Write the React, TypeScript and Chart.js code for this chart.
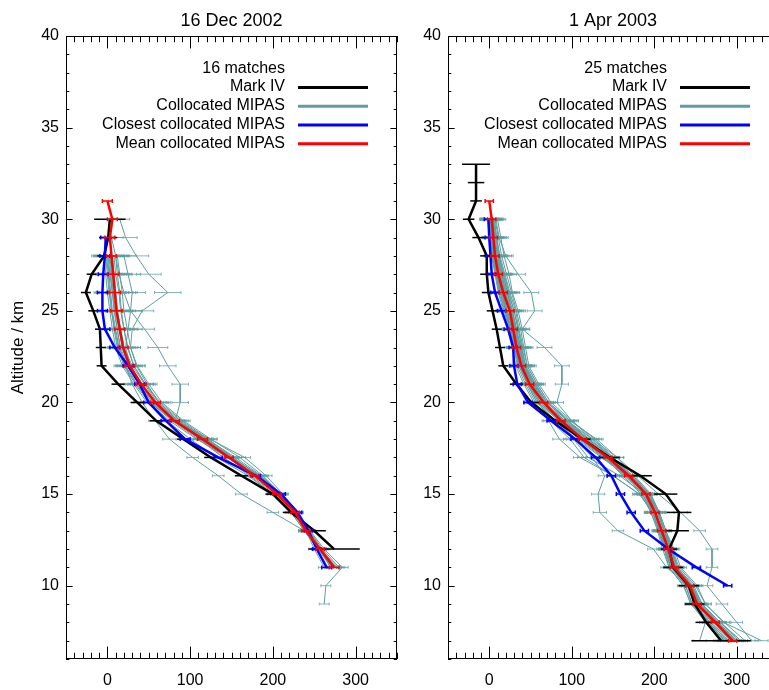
import React, { useEffect, useRef } from 'react';
import { Chart, registerables } from 'chart.js';

Chart.register(...registerables);

const FONT = '"Liberation Sans", Arial, Helvetica, sans-serif';
const TEAL = '#5f9ea0';
const TEAL_ERR = 'rgba(95,158,160,0.75)';

const seriesLabels = ['Mark IV', 'Collocated MIPAS', 'Closest collocated MIPAS', 'Mean collocated MIPAS'];
const seriesColors = ['#000000', TEAL, '#0000ff', '#ff0000'];
const yTitle = 'Altitude / km';

// ---------- 16 Dec 2002 ----------
const decTitle = '16 Dec 2002';
const decMatches = '16 matches';

const decMarkIVTop = 30;
const decMarkIV = [3, 1, -4, -19, -26, -17, -9, -8, -7, 13, 36, 59, 92, 125, 162, 200, 222, 250, 274];
const decMarkIVErr = [19, 11, 8, 6, 6, 6, 6, 6, 6, 8, 8, 8, 8, 8, 8, 9, 10, 14, 31];

const decClosestTop = 29;
const decClosest = [-2, -3, -5, -6, -6, -3, 9, 25, 39, 50, 71, 94, 134, 180, 210, 230, 243, 253, 265];
const decClosestErr = [6, 6, 6, 6, 6, 6, 6, 6, 6, 6, 6, 6, 5, 5, 5, 5, 5, 5, 6];

const decMeanTop = 31;
const decMean = [0, 6, 3, 5, 7, 9, 11, 15, 19, 27, 41, 58, 81, 115, 147, 178, 205, 227, 240, 257, 274];
const decMeanErr = [6, 6, 6, 6, 7, 7, 7, 6, 6, 6, 6, 6, 6, 6, 5, 5, 5, 5, 5, 5, 6];

// altitude 30 km down to 9 km
const decMipasErr = [12, 14, 15, 15, 16, 14, 12, 12, 10, 10, 10, 8, 8, 7, 7, 7, 7, 7, 7, 7, 6, 6];

const decMipasTop = [30, 28, 28, 28, 28, 28, 28, 28, 28, 28, 28, 28, 28, 28, 28, 29];
const decMipas = [
  [15, 22, 35, 50, 73, 42, 30, 28, 35, 48, 62, 85, 118, 150, 185, 210, 228, 242, 258, 272],
  [10, 14, 20, 28, 45, 61, 73, 88, 88, 82, 124, 166, 192, 212, 226, 240, 250, 262],
  [2, 4, 6, 8, 12, 15, 22, 30, 42, 58, 75, 103, 134, 162, 200, 238, 255, 270],
  [5, 8, 10, 12, 15, 18, 25, 38, 55, 80, 112, 145, 178, 205, 228, 245, 262, 284, 264, 262],
  [0, 2, 4, 6, 10, 14, 22, 36, 52, 78, 110, 140, 172, 200, 222, 238, 255, 272],
  [-2, 0, 2, 5, 8, 12, 20, 34, 50, 75, 108, 145, 178, 204, 224, 240, 256, 270],
  [8, 10, 14, 16, 20, 25, 32, 46, 62, 88, 120, 152, 184, 208, 228, 242, 258, 276],
  [3, 5, 7, 10, 14, 18, 26, 40, 58, 85, 118, 150, 180, 206, 226, 238, 254, 273],
  [-4, -2, 0, 3, 6, 10, 18, 32, 48, 72, 100, 132, 170, 200, 222, 238, 256, 275],
  [12, 15, 18, 20, 24, 28, 36, 50, 66, 92, 125, 160, 188, 210, 228, 242, 258, 278],
  [6, 8, 10, 12, 16, 20, 28, 42, 58, 84, 112, 140, 174, 202, 224, 240, 258, 276],
  [1, 3, 6, 9, 12, 16, 24, 38, 54, 80, 114, 148, 182, 208, 228, 244, 260, 280],
  [20, 25, 30, 28, 25, 22, 28, 40, 56, 82, 118, 150, 180, 206, 226, 240, 256, 272],
  [4, 6, 9, 12, 16, 20, 30, 45, 60, 86, 120, 155, 186, 210, 230, 244, 258, 274],
  [-1, 1, 3, 5, 9, 13, 21, 35, 52, 80, 116, 150, 178, 204, 226, 240, 256, 272],
  [5, 10, 12, 15, 17, 20, 24, 32, 46, 64, 90, 122, 152, 182, 206, 226, 238, 255, 273],
];

// ---------- 1 Apr 2003 ----------
const aprTitle = '1 Apr 2003';
const aprMatches = '25 matches';

const aprMarkIVTop = 33;
const aprMarkIV = [-16, -16, -16, -25, -13, -3, -3, -1, 4, 9, 13, 17, 33, 51, 80, 113, 146, 183, 214, 230, 228, 218, 223, 242, 249, 263, 281];
const aprMarkIVErr = [17, 10, 7, 7, 7.5, 8, 8, 8, 7, 6, 6, 6, 8, 10, 10, 10, 12, 14, 14, 15, 14, 10, 12, 12.5, 12, 13, 36];

const aprClosestTop = 30;
const aprClosest = [-1, 0, 1.5, 3, 7, 15, 23, 29, 30, 34, 47, 75, 104, 129, 148, 159, 172, 188, 217, 251, 289];
const aprClosestErr = [5, 5, 5, 5, 5, 5, 5, 5, 5, 5, 5, 5, 5, 5, 5, 5, 5, 5, 5, 5, 5];

const aprMeanTop = 31;
const aprMean = [0, 3, 5, 7, 11, 17, 25, 29, 33, 39, 49, 66, 87, 113, 144, 169, 190, 201, 209, 217, 224, 243, 252, 274, 295];
const aprMeanErr = [5, 5, 5, 5, 5, 5, 5, 5, 5, 5, 5, 5, 5, 5, 5, 5, 5, 5, 5, 5, 5, 5, 5, 5, 5];

// altitude 30 km down to 7 km
const aprMipasErr = [10, 9, 9, 9, 9, 9, 9, 9, 9, 8, 8, 8, 8, 8, 8, 8, 8, 7, 7, 7, 7, 7, 7, 8];

const aprMipasTop = 30;
const aprMipas = [
  [8, 12, 20, 35, 51, 55, 40, 67, 88, 88, 82, 100, 125, 150, 172, 192, 205, 212, 220, 228, 245, 255, 275, 298],
  [0, 2, 5, 10, 15, 22, 28, 32, 38, 48, 60, 80, 105, 125, 140, 132, 134, 156, 199, 215, 240, 250, 265, 282],
  [3, 6, 10, 15, 20, 27, 32, 38, 42, 55, 70, 95, 125, 155, 180, 205, 232, 255, 270, 270, 264, 282, 300, 318],
  [0, 2, 4, 9, 14, 20, 25, 30, 36, 46, 58, 78, 102, 120, 158, 188, 200, 208, 215, 222, 240, 250, 270, 290],
  [5, 8, 12, 18, 24, 30, 35, 40, 44, 56, 70, 95, 122, 150, 172, 192, 204, 212, 220, 228, 248, 258, 280, 305],
  [-1, 1, 3, 8, 12, 18, 24, 30, 34, 44, 56, 72, 85, 110, 150, 182, 198, 206, 212, 218, 235, 245, 262, 280],
  [10, 14, 18, 24, 28, 35, 40, 44, 48, 60, 75, 100, 128, 150, 170, 188, 198, 206, 214, 222, 240, 248, 268, 288],
  [2, 4, 6, 12, 16, 22, 28, 33, 38, 50, 66, 92, 120, 148, 172, 194, 206, 214, 224, 232, 252, 262, 285, 310],
  [1, 3, 6, 11, 17, 24, 29, 34, 40, 52, 65, 90, 116, 142, 166, 186, 196, 204, 210, 218, 236, 244, 266, 285],
  [4, 7, 10, 16, 22, 28, 33, 37, 42, 54, 68, 88, 110, 140, 168, 192, 204, 212, 222, 230, 250, 262, 284, 330],
  [0, 1, 3, 7, 11, 17, 22, 28, 32, 42, 54, 74, 98, 115, 150, 182, 198, 206, 213, 220, 238, 246, 266, 284],
  [6, 9, 13, 19, 25, 32, 36, 41, 46, 58, 72, 96, 118, 146, 170, 190, 200, 208, 216, 224, 246, 256, 278, 300],
  [-2, 0, 3, 8, 13, 19, 25, 30, 36, 47, 60, 84, 112, 145, 172, 195, 206, 214, 222, 228, 246, 255, 276, 298],
  [3, 5, 8, 14, 19, 26, 31, 36, 41, 53, 67, 90, 115, 140, 162, 184, 196, 205, 212, 220, 240, 250, 272, 292],
  [7, 11, 15, 21, 27, 33, 38, 42, 46, 58, 72, 98, 130, 155, 176, 196, 206, 212, 218, 226, 244, 252, 272, 294],
  [1, 3, 5, 10, 15, 21, 26, 31, 37, 48, 62, 86, 114, 146, 172, 192, 202, 210, 218, 226, 246, 256, 280, 302],
  [2, 5, 8, 13, 18, 25, 30, 35, 40, 50, 62, 84, 108, 138, 164, 186, 198, 207, 216, 224, 242, 252, 274, 296],
  [0, 2, 5, 9, 14, 20, 26, 31, 36, 46, 58, 80, 106, 136, 166, 190, 202, 210, 218, 225, 244, 254, 276, 298],
  [5, 8, 11, 17, 23, 30, 35, 39, 44, 56, 70, 94, 120, 150, 174, 195, 206, 214, 220, 226, 244, 254, 276, 300],
  [3, 5, 9, 14, 19, 26, 32, 37, 42, 52, 64, 88, 114, 142, 168, 190, 200, 208, 214, 222, 240, 248, 268, 288],
  [-1, 1, 4, 9, 14, 21, 27, 32, 38, 49, 62, 86, 116, 148, 174, 194, 204, 212, 220, 228, 246, 258, 280, 305],
  [4, 6, 9, 15, 21, 28, 33, 38, 43, 55, 68, 92, 118, 144, 168, 188, 198, 206, 214, 220, 238, 246, 266, 286],
  [2, 4, 7, 12, 17, 24, 30, 35, 40, 51, 64, 86, 110, 140, 166, 188, 200, 208, 216, 224, 244, 254, 262, 255],
  [1, 3, 6, 12, 18, 25, 31, 36, 41, 52, 66, 90, 118, 146, 170, 190, 200, 208, 216, 224, 244, 252, 274, 296],
  [6, 9, 12, 17, 22, 28, 33, 38, 42, 53, 66, 90, 112, 140, 166, 190, 202, 210, 218, 226, 246, 254, 278, 300],
];

// ---------- axes ----------
const xMin = -50;
const xMax = 350;
const xTickValues = [0, 100, 200, 300];
const xMajorStep = 100;
const xMinorStep = 10;
const yMin = 6;
const yMax = 40;
const yTickValues = [10, 15, 20, 25, 30, 35, 40];
const yMajorStep = 5;
const yMinorStep = 1;

function toPoints(top: number, vals: number[]) {
  return vals.map((v, i) => ({ x: v, y: top - i }));
}

function lineDs(label: string, color: string, width: number, top: number, vals: number[], errs: number[], errColor: string, errWidth: number, cap: number) {
  return {
    label,
    data: toPoints(top, vals),
    borderColor: color,
    backgroundColor: color,
    borderWidth: width,
    showLine: true,
    pointRadius: 0,
    tension: 0,
    errs,
    errColor,
    errWidth,
    errCap: cap,
  };
}

const decoPlugin: any = {
  id: 'deco',
  afterDatasetDraw(chart: any, args: any) {
    const ds = chart.data.datasets[args.index];
    if (!ds || !ds.errs) return;
    const { ctx, chartArea: a } = chart;
    const xs = chart.scales.x;
    const ys = chart.scales.y;
    ctx.save();
    ctx.beginPath();
    ctx.rect(a.left, a.top, a.right - a.left, a.bottom - a.top);
    ctx.clip();
    ctx.strokeStyle = ds.errColor;
    ctx.lineWidth = ds.errWidth;
    ds.data.forEach((p: any, i: number) => {
      const e = ds.errs[i];
      if (!e) return;
      const x1 = xs.getPixelForValue(p.x - e);
      const x2 = xs.getPixelForValue(p.x + e);
      const y = ys.getPixelForValue(p.y);
      ctx.beginPath();
      ctx.moveTo(x1, y);
      ctx.lineTo(x2, y);
      if (ds.errCap) {
        ctx.moveTo(x1, y - ds.errCap);
        ctx.lineTo(x1, y + ds.errCap);
        ctx.moveTo(x2, y - ds.errCap);
        ctx.lineTo(x2, y + ds.errCap);
      }
      ctx.stroke();
    });
    ctx.restore();
  },
  afterDraw(chart: any, _args: any, opts: any) {
    const { ctx, chartArea: a } = chart;
    const xs = chart.scales.x;
    const ys = chart.scales.y;
    ctx.save();
    ctx.strokeStyle = '#000';
    ctx.lineWidth = 1;
    ctx.strokeRect(Math.round(a.left) + 0.5, Math.round(a.top) + 0.5, Math.round(a.right - a.left) - 1, Math.round(a.bottom - a.top) - 1);
    const W = a.right - a.left;
    const H = a.bottom - a.top;
    const xMajLen = 0.02 * H;
    const yMajLen = 0.02 * W;
    ctx.beginPath();
    for (let v = xMin; v <= xMax + 1e-9; v += xMinorStep) {
      const px = Math.round(xs.getPixelForValue(v)) + 0.5;
      const len = v % xMajorStep === 0 ? xMajLen : xMajLen / 2;
      ctx.moveTo(px, a.bottom);
      ctx.lineTo(px, a.bottom - len);
      ctx.moveTo(px, a.top);
      ctx.lineTo(px, a.top + len);
    }
    for (let v = yMin; v <= yMax + 1e-9; v += yMinorStep) {
      const py = Math.round(ys.getPixelForValue(v)) + 0.5;
      const len = v % yMajorStep === 0 ? yMajLen : yMajLen / 2;
      ctx.moveTo(a.left, py);
      ctx.lineTo(a.left + len, py);
      ctx.moveTo(a.right, py);
      ctx.lineTo(a.right - len, py);
    }
    ctx.stroke();
    ctx.fillStyle = '#000';
    ctx.font = `18px ${FONT}`;
    ctx.textAlign = 'center';
    ctx.textBaseline = 'alphabetic';
    ctx.fillText(opts.title, (a.left + a.right) / 2, 26);
    ctx.font = `16px ${FONT}`;
    ctx.textAlign = 'right';
    ctx.textBaseline = 'middle';
    const tx = a.left + 219;
    const y0 = a.top + 32.3;
    const step = 18.75;
    ctx.fillText(opts.matches, tx, y0);
    seriesLabels.forEach((lab, i) => {
      const y = y0 + (i + 1) * step;
      ctx.fillStyle = '#000';
      ctx.fillText(lab, tx, y);
      ctx.strokeStyle = seriesColors[i];
      ctx.lineWidth = 3;
      ctx.beginPath();
      ctx.moveTo(a.left + 232, y + 0.5);
      ctx.lineTo(a.left + 302, y + 0.5);
      ctx.stroke();
    });
    ctx.restore();
  },
};

function makeConfig(p: any) {
  const datasets: any[] = [
    lineDs('Mean collocated MIPAS', '#ff0000', 2.5, p.meanTop, p.mean, p.meanErr, '#ff0000', 1.5, 2),
    lineDs('Closest collocated MIPAS', '#0000ff', 2.5, p.closestTop, p.closest, p.closestErr, '#0000ff', 1.5, 2),
    lineDs('Mark IV', '#000000', 2.5, p.markTop, p.mark, p.markErr, '#000000', 1.5, 0),
  ];
  p.mipas.forEach((vals: number[], k: number) => {
    const top = Array.isArray(p.mipasTop) ? p.mipasTop[k] : p.mipasTop;
    const errs = vals.map((_, i) => p.mipasErr[30 - (top - i)]);
    datasets.push(lineDs('Collocated MIPAS', TEAL, 1, top, vals, errs, TEAL_ERR, 1, 1.5));
  });
  return {
    type: 'scatter',
    data: { datasets },
    plugins: [decoPlugin],
    options: {
      animation: false,
      responsive: false,
      devicePixelRatio: 1,
      layout: { padding: { left: 0, right: p.padRight, top: 36, bottom: 0 } },
      plugins: {
        legend: { display: false },
        tooltip: { enabled: false },
        title: { display: false },
        deco: { title: p.title, matches: p.matches },
      },
      scales: {
        x: {
          type: 'linear',
          min: xMin,
          max: xMax,
          afterBuildTicks: (s: any) => { s.ticks = xTickValues.map((v) => ({ value: v })); },
          afterFit: (s: any) => { s.height = 31; },
          grid: { display: false, drawTicks: false },
          border: { display: false },
          ticks: { padding: 12, maxRotation: 0, autoSkip: false, color: '#000', font: { family: FONT, size: 16 } },
        },
        y: {
          type: 'linear',
          min: yMin,
          max: yMax,
          afterBuildTicks: (s: any) => { s.ticks = yTickValues.map((v) => ({ value: v })); },
          afterFit: (s: any) => { s.width = p.yAxisWidth; },
          grid: { display: false, drawTicks: false },
          border: { display: false },
          ticks: { padding: 7, autoSkip: false, color: '#000', font: { family: FONT, size: 16 } },
          title: { display: p.showYTitle, text: yTitle, color: '#000', font: { family: FONT, size: 17 }, padding: { top: 8, bottom: 0 } },
        },
      },
    },
  };
}

const decPanel = {
  title: decTitle, matches: decMatches,
  markTop: decMarkIVTop, mark: decMarkIV, markErr: decMarkIVErr,
  closestTop: decClosestTop, closest: decClosest, closestErr: decClosestErr,
  meanTop: decMeanTop, mean: decMean, meanErr: decMeanErr,
  mipasTop: decMipasTop, mipas: decMipas, mipasErr: decMipasErr,
  padRight: 3, yAxisWidth: 66, showYTitle: true,
};

const aprPanel = {
  title: aprTitle, matches: aprMatches,
  markTop: aprMarkIVTop, mark: aprMarkIV, markErr: aprMarkIVErr,
  closestTop: aprClosestTop, closest: aprClosest, closestErr: aprClosestErr,
  meanTop: aprMeanTop, mean: aprMean, meanErr: aprMeanErr,
  mipasTop: aprMipasTop, mipas: aprMipas, mipasErr: aprMipasErr,
  padRight: 22, yAxisWidth: 48, showYTitle: false,
};

export default function App() {
  const leftRef = useRef<HTMLCanvasElement>(null);
  const rightRef = useRef<HTMLCanvasElement>(null);

  useEffect(() => {
    const c1 = new Chart(leftRef.current as HTMLCanvasElement, makeConfig(decPanel) as any);
    const c2 = new Chart(rightRef.current as HTMLCanvasElement, makeConfig(aprPanel) as any);
    return () => {
      c1.destroy();
      c2.destroy();
    };
  }, []);

  return (
    <div style={{ position: 'fixed', left: 0, top: 0, width: 769, height: 690, overflow: 'hidden', background: '#fff' }}>
      <canvas ref={leftRef} width={400} height={690} style={{ position: 'absolute', left: 0, top: 0, width: 400, height: 690 }} />
      <canvas ref={rightRef} width={400} height={690} style={{ position: 'absolute', left: 400, top: 0, width: 400, height: 690 }} />
    </div>
  );
}
